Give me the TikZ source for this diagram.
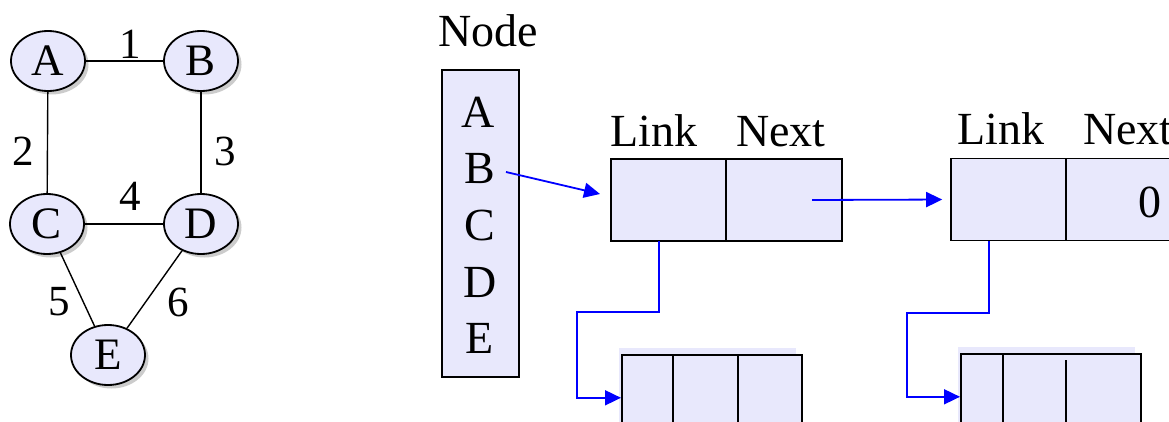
\documentclass[tikz,border=0pt]{standalone}
\usepackage{fontspec}
\setmainfont{Liberation Serif}
\usetikzlibrary{shapes.geometric,shadows,arrows.meta}
\definecolor{lav}{RGB}{232,232,252}
\begin{document}
\begin{tikzpicture}[x=1pt,y=-1pt,
  vert/.style={ellipse, draw, line width=1.8pt, fill=lav, minimum width=74pt, minimum height=60pt, inner sep=0pt,
    font=\fontsize{45}{50}\selectfont,
    drop shadow={shadow xshift=3.5pt, shadow yshift=-3.5pt, fill=black!40}},
  elabel/.style={font=\fontsize{43}{48}\selectfont, inner sep=0pt},
  gedge/.style={line width=1.4pt},
  big/.style={font=\fontsize{46}{52}\selectfont, inner sep=0pt, anchor=base},
  cell/.style={rectangle, draw, line width=1.6pt, fill=lav, inner sep=0pt},
  conn/.style={draw=blue, line width=1.8pt, -{Triangle[length=16pt,width=15pt]}}]
\useasboundingbox (0,0) rectangle (1169,422);
\clip (0,0) rectangle (1169,422);
% graph
\node[vert] (A) at (48,61) {A};
\node[vert] (B) at (201,61) {B};
\node[vert] (C) at (47,224) {C};
\node[vert] (D) at (201,224) {D};
\node[vert] (E) at (108,355) {E};
\draw[gedge] (A) -- (B);
\draw[gedge] (A) -- (C);
\draw[gedge] (B) -- (D);
\draw[gedge] (C) -- (D);
\draw[gedge] (C) -- (E);
\draw[gedge] (D) -- (E);
\node[elabel] (w1) at (130,44) {1};
\node[elabel] (w2) at (23,151) {2};
\node[elabel] (w3) at (225,151) {3};
\node[elabel] (w4) at (130,196) {4};
\node[elabel] (w5) at (59,302) {5};
\node[elabel] (w6) at (178,302) {6};
% node column
\node[big] (nodelbl) at (488,47) {Node};
\node[cell, minimum width=77pt, minimum height=307pt] (col) at (480.5,223.5) {};
\node[big] (nA) at (478,128) {A};
\node[big] (nB) at (480,184) {B};
\node[big] (nC) at (480,240) {C};
\node[big] (nD) at (480,297) {D};
\node[big] (nE) at (480,353) {E};
% list nodes
\node[big] (lk1) at (654,147) {Link};
\node[big] (nx1) at (781,147) {Next};
\node[big] (lk2) at (1001,145) {Link};
\node[big] (nx2) at (1128,145) {Next};
\node[cell, minimum width=115pt, minimum height=82pt] (L1) at (668.5,200) {};
\node[cell, minimum width=116pt, minimum height=82pt] (N1) at (784,200) {};
\node[cell, minimum width=115pt, minimum height=82pt] (L2) at (1008.5,199.5) {};
\node[cell, minimum width=116pt, minimum height=82pt] (N2) at (1124,199.5) {};
\node[big] (zero) at (1150,217) {0};
% lower boxes
\fill[lav] (619,348) rectangle (796,440);
\node[cell, anchor=north west, minimum width=51pt, minimum height=86pt] (LB1a) at (621,354) {};
\node[cell, anchor=north west, minimum width=65pt, minimum height=86pt] (LB1b) at (672,354) {};
\node[cell, anchor=north west, minimum width=64pt, minimum height=86pt] (LB1c) at (737,354) {};
\fill[lav] (958,347) rectangle (1135,440);
\node[cell, anchor=north west, minimum width=42pt, minimum height=86pt] (LB2a) at (960,353) {};
\node[cell, anchor=north west, minimum width=138pt, minimum height=86pt] (LB2b) at (1002,353) {};
\draw[line width=1.6pt] (1066,360) -- (1066,440);
% connectors
\coordinate (bs) at (506,172);
\coordinate (be) at (600,194);
\draw[conn] (bs) -- (be);
\coordinate (ns) at (812,200);
\draw[conn, shorten >=8pt] (ns) -- (L2.west);
\coordinate (d1) at (659,241);
\draw[conn] (d1) -- (659,312) -- (577,312) |- (LB1a.west);
\coordinate (d2) at (989,241);
\draw[conn] (d2) -- (989,313) -- (907,313) |- (LB2a.west);
\end{tikzpicture}
\end{document}
